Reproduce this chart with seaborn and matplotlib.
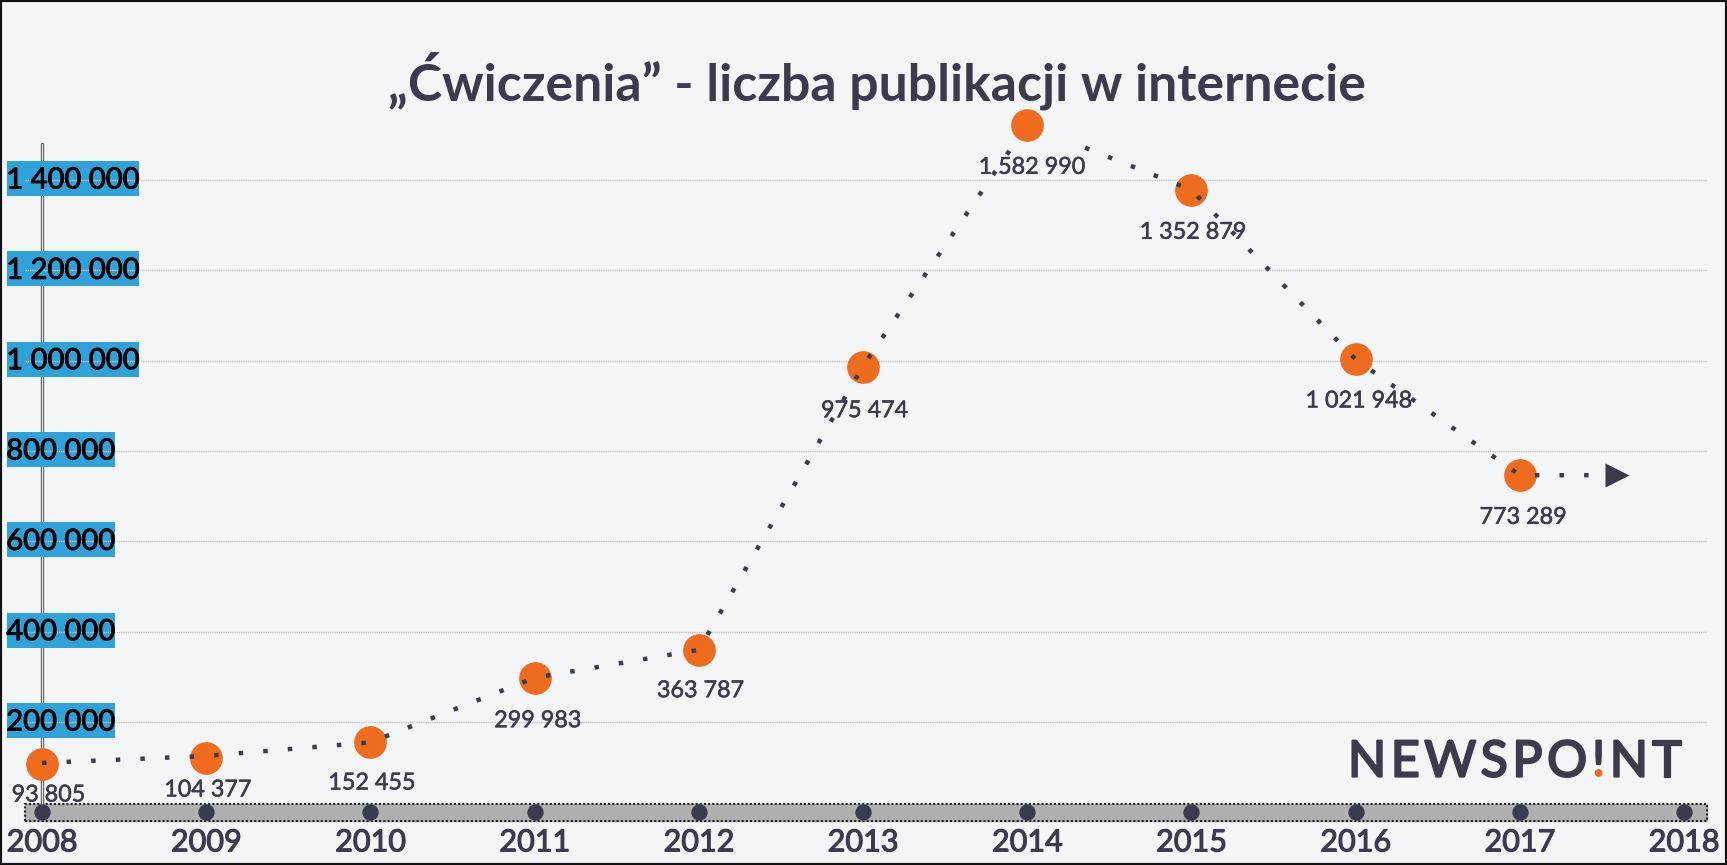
import matplotlib
matplotlib.use("Agg")
import matplotlib.patheffects as pe
import matplotlib.pyplot as plt
import matplotlib.transforms as mtrans
import pandas as pd
import seaborn as sns

years = [2008, 2009, 2010, 2011, 2012, 2013, 2014, 2015, 2016, 2017]
all_years = [2008, 2009, 2010, 2011, 2012, 2013, 2014, 2015, 2016, 2017, 2018]
# where the circles sit on the y axis (they do not quite agree with their labels)
circle_values = [107000, 120400, 155800, 297500, 359500, 986700, 1522000, 1378000, 1003000, 747000]
value_labels = ["93 805", "104 377", "152 455", "299 983", "363 787",
                "975 474", "1 582 990", "1 352 879", "1 021 948", "773 289"]
label_years = [2008.04, 2009.01, 2010.01, 2011.02, 2012.01, 2013.01, 2014.03, 2015.01, 2016.02, 2017.02]
label_levels = [38500, 49600, 65100, 203000, 269400, 889300, 1428200, 1284300, 910800, 653300]

# dotted trend line, slightly off the circles in places
line_years = [2008, 2009, 2010, 2011, 2012, 2013, 2014, 2015, 2016, 2017, 2017.49]
line_values = [109500, 125000, 155000, 298000, 360000, 988000, 1522500, 1378000, 1003000, 746500, 746500]

y_ticks = [200000, 400000, 600000, 800000, 1000000, 1200000, 1400000]
y_tick_labels = ["200 000", "400 000", "600 000", "800 000", "1 000 000", "1 200 000", "1 400 000"]
box_widths = [108, 108, 108, 108, 132, 132, 132]

dark = "#3a3b4c"
orange = "#ef6b1e"
bg = "#f3f5f7"
px_per_unit = 0.0004517

sns.set_theme(style="white")
plt.rcParams["font.family"] = ["Lato", "DejaVu Sans"]

thick = [pe.withStroke(linewidth=0.8, foreground=dark)]
thick_black = [pe.withStroke(linewidth=0.7, foreground="black")]

fig = plt.figure(figsize=(17.27, 8.65), dpi=100, facecolor=bg)
# axes: pixels 25..1707 across, 812 (zero) up to 144
ax = fig.add_axes([25 / 1727, (865 - 812.4) / 865, (1707 - 25) / 1727, (812.4 - 144) / 865])
ax.set_facecolor(bg)
ax.set_xlim(2008 - 17 / 164.2, 2008 + (1707 - 42) / 164.2)
ax.set_ylim(0, (812.4 - 144) / px_per_unit)
sns.despine(ax=ax, left=True, bottom=True)

ax.set_yticks(y_ticks)
ax.set_yticklabels(y_tick_labels)
ax.grid(axis="y", color="#c4c6c8", lw=1, ls=(0, (1, 0.6)))
ax.set_axisbelow(False)
ax.tick_params(axis="y", length=0, pad=13.5, labelsize=21, labelcolor="black")
nudge = mtrans.ScaledTranslation(0, 1.5 / 72, fig.dpi_scale_trans)
for t in ax.get_yticklabels():
    t.set_ha("left")
    t.set_path_effects(thick_black)
    t.set_transform(t.get_transform() + nudge)

# blue boxes behind the y labels
box_trans = mtrans.blended_transform_factory(mtrans.IdentityTransform(), ax.transData)
for tick, w in zip(y_ticks, box_widths):
    ax.add_patch(plt.Rectangle((7, tick + 3300 - 38700), w, 77400, transform=box_trans,
                               fc="#2fa3d9", ec="none", zorder=2, clip_on=False))

ax.set_xticks(all_years)
ax.set_xticklabels(all_years)
ax.tick_params(axis="x", length=0, pad=11.5, labelsize=22, labelcolor=dark)
for t in ax.get_xticklabels():
    t.set_path_effects(thick)

# grey time band along the bottom
ax.axhspan(-19500, 19500, color="#b0b0b0", zorder=1, clip_on=False)
ax.axhspan(-19500, 19500, fc="none", ec="#222222", lw=1.5, ls=(0, (1, 1)), zorder=1.1, clip_on=False)

# double vertical axis line
ax.plot([2008, 2008], [19500, 1480000], color="#555555", lw=2.4, zorder=1.5, clip_on=False)
ax.plot([2008, 2008], [19500, 1480000], color="#e8e8e8", lw=0.9, zorder=1.6, clip_on=False)

df_axis = pd.DataFrame({"year": all_years, "y": [0] * len(all_years)})
sns.scatterplot(data=df_axis, x="year", y="y", s=138, color=dark, linewidth=0, ax=ax, zorder=3, clip_on=False)

df_circles = pd.DataFrame({"year": years, "value": circle_values})
sns.scatterplot(data=df_circles, x="year", y="value", s=553, color=orange, linewidth=0, ax=ax, zorder=3, clip_on=False)

df_line = pd.DataFrame({"year": line_years, "value": line_values})
sns.lineplot(data=df_line, x="year", y="value", color=dark, lw=3.2, ls=(0, (1, 4.54)), ax=ax, zorder=4,
             errorbar=None, sort=False)
ax.scatter(2017.592, 746500, marker=">", s=300, color=dark, linewidth=0, zorder=4)

ax.set_xlabel("")
ax.set_ylabel("")

for yr, lev, txt in zip(label_years, label_levels, value_labels):
    ax.text(yr, lev, txt, ha="center", va="center", fontsize=16.8, color=dark, zorder=3.5,
            path_effects=[pe.withStroke(linewidth=0.35, foreground=dark)])

fig.text(877 / 1727, 1 - 101 / 865, "„Ćwiczenia” - liczba publikacji w internecie", ha="center", va="baseline",
         fontsize=37.3, fontweight="bold", color=dark)

# logo, spaced out letter by letter
fig.canvas.draw()
renderer = fig.canvas.get_renderer()
x_px = 1348
for ch in "NEWSPO!NT":
    t = fig.text(x_px / 1727, 1 - 776.5 / 865, ch, ha="left", va="baseline", fontsize=36, color=dark, zorder=1,
                 path_effects=[pe.withStroke(linewidth=1.6, foreground=dark)])
    w = t.get_window_extent(renderer).width
    if ch == "!":
        # the point of the exclamation mark is orange
        fig.add_artist(plt.Circle((x_px + w / 2, 865 - 773), 6.5, transform=mtrans.IdentityTransform(),
                                  fc=bg, ec="none", zorder=2))
        fig.add_artist(plt.Circle((x_px + w / 2, 865 - 773), 3.9, transform=mtrans.IdentityTransform(),
                                  fc=orange, ec="none", zorder=3))
    x_px += w + 4.6

# frame round the picture
fig.add_artist(plt.Rectangle((0, 0), 1, 1, transform=fig.transFigure, fc="none", ec="#111111", lw=3))

fig.savefig("out.png", dpi=100, facecolor=bg)
